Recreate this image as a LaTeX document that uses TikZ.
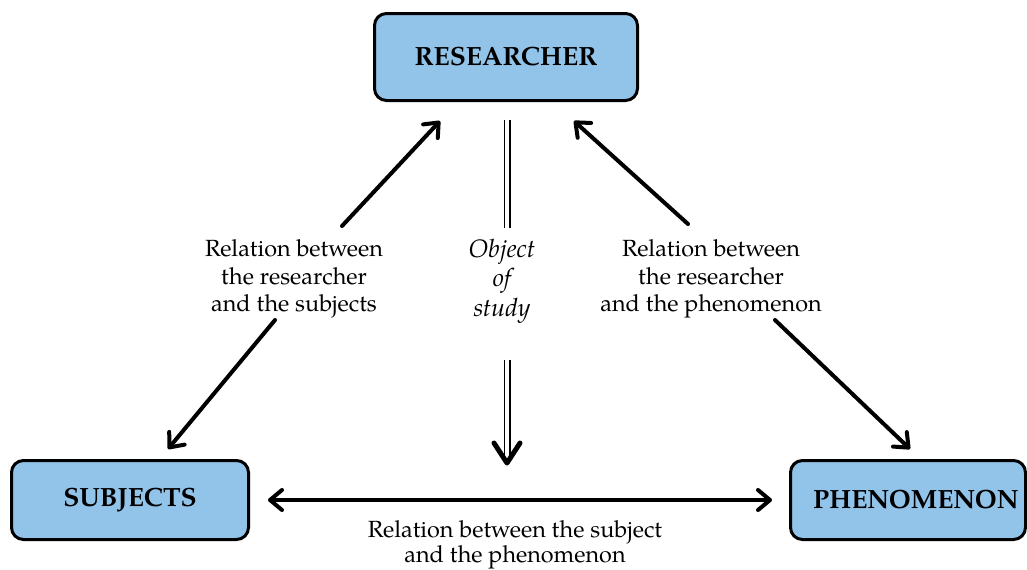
\documentclass[tikz,border=0pt]{standalone}
\usepackage{fontspec}
\setmainfont{texgyrepagella}[Extension=.otf, UprightFont=*-regular, BoldFont=*-bold, ItalicFont=*-italic, BoldItalicFont=*-bolditalic]
\usetikzlibrary{arrows.meta}
\definecolor{boxblue}{RGB}{146,195,233}
\tikzset{
  box/.style={draw=black, line width=1.5pt, fill=boxblue, rounded corners=6pt, inner sep=0pt,
    font=\fontsize{13.2}{15}\selectfont\bfseries},
  lbl/.style={align=center, inner sep=0pt, font=\fontsize{11.7}{13.8}\selectfont},
  arr/.style={line width=2pt, line cap=round, line join=round, -{Straight Barb[length=6pt,width=10pt,line cap=round,line join=round]}},
  dbl/.style={line width=0.9pt, double distance=1.7pt, draw=black, double=white},
  head/.style={line width=2.5pt, line cap=round, line join=round}
}
\begin{document}
\begin{tikzpicture}[x=0.5pt,y=-0.5pt]
\useasboundingbox (0,0) rectangle (1027,569);
% boxes
\node[box, minimum width=131.5pt, minimum height=43.5pt] (res) at (506,57) {RESEARCHER};
\node[box, minimum width=118.5pt, minimum height=39.5pt] (sub) at (130,500) {SUBJECTS};
\node[box, minimum width=117.5pt, minimum height=39.5pt] (phe) at (908,500) {\hspace*{8pt}PHENOMENON};
% labels
\node[lbl] (lrs) at (294,279) {Relation between\\the researcher\\and the subjects};
\node[lbl] (lrp) at (711,279) {Relation between\\the researcher\\and the phenomenon};
\node[lbl, font=\fontsize{12.6}{14.8}\selectfont\itshape] (obj) at (502,281) {Object\\of\\study};
\node[lbl, font=\fontsize{11.7}{12.5}\selectfont] (lsp) at (515,545) {Relation between the subject\\and the phenomenon};
% arrow end points
\coordinate (a1s) at (342,226); \coordinate (a1e) at (440,121);
\coordinate (a2s) at (275,320); \coordinate (a2e) at (168,449);
\coordinate (a3s) at (688,224); \coordinate (a3e) at (574,121);
\coordinate (a4s) at (775,320); \coordinate (a4e) at (910,449);
\coordinate (hl) at (268,500); \coordinate (hr) at (772,500);
\coordinate (m1s) at (507,120); \coordinate (m1e) at (507,228);
\coordinate (m2s) at (507,360); \coordinate (m2e) at (507,456);
\coordinate (mh) at (507,463);
\coordinate (mhl) at (494,443); \coordinate (mhr) at (520,443);
% connectors
\draw[arr] (a1s) -- (a1e);
\draw[arr] (a2s) -- (a2e);
\draw[arr] (a3s) -- (a3e);
\draw[arr] (a4s) -- (a4e);
\draw[arr, {Straight Barb[length=6pt,width=10pt,line cap=round,line join=round]}-{Straight Barb[length=6pt,width=10pt,line cap=round,line join=round]}] (hl) -- (hr);
\draw[dbl] (m1s) -- (m1e);
\draw[dbl] (m2s) -- (m2e);
\draw[head] (mhl) -- (mh) -- (mhr);
\end{tikzpicture}
\end{document}
